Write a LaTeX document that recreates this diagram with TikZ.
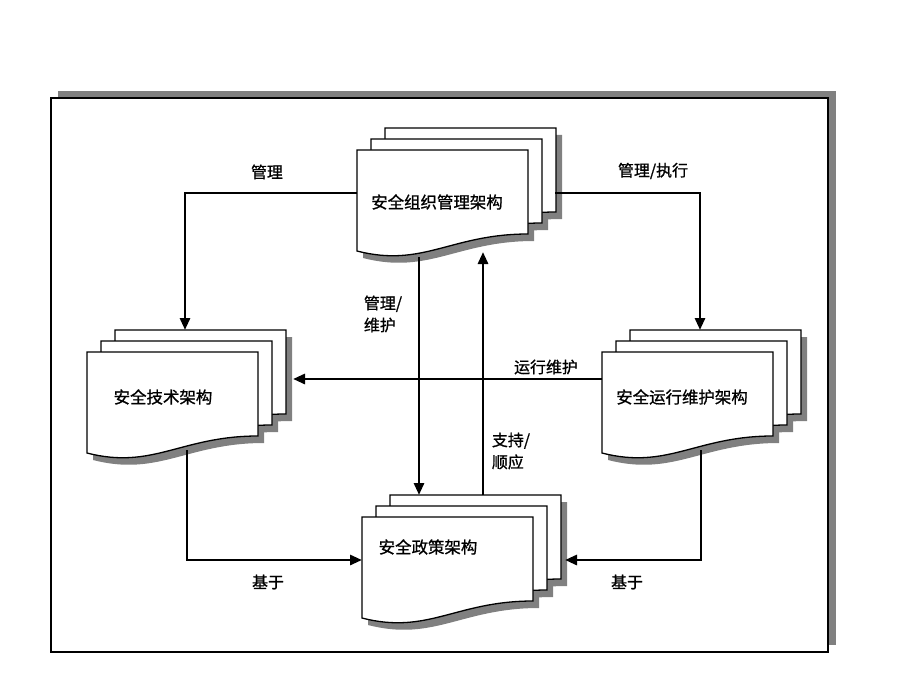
\documentclass[tikz,border=0pt]{standalone}
\usepackage{fontspec}
\newfontfamily\cjk[FakeBold=1]{Noto Sans CJK SC}
\usetikzlibrary{arrows.meta}

% outline of one page (front page, top-left at the origin)
\newcommand{\docshape}{(0,0) -- (171,0) -- (171,84) .. controls (94,84) and (66,118) .. (0,101) -- cycle}

% stack of three pages, #1/#2 = top-left of the front page
\newcommand{\docstack}[2]{%
  \begin{scope}[shift={(#1,#2)}]
    \foreach \dx/\dy in {28/-22,14/-11,0/0}
      \fill[docshadow, shift={(\dx+6,\dy+7)}] \docshape;
    \foreach \dx/\dy in {28/-22,14/-11,0/0}
      \draw[docpage, shift={(\dx,\dy)}] \docshape;
  \end{scope}}

\begin{document}
\begin{tikzpicture}[x=1bp, y=-1bp,
    docpage/.style={draw=black, line width=1.3bp, fill=white},
    docshadow/.style={fill=black!50},
    conn/.style={line width=2.8bp, -{Triangle[length=12bp,width=10bp]}},
    doctext/.style={font=\cjk\fontsize{16.5}{20}\selectfont},
    lbl/.style={font=\cjk\fontsize{16}{22}\selectfont, align=left, inner sep=0pt}]

    \useasboundingbox (0,0) rectangle (920,690);

    % Frame with its shadow
    \fill[black!50] (58,91) rectangle (836,645);
    \draw[line width=2bp, fill=white] (51,98) rectangle (828,652);

    % Document stacks
    \docstack{357}{150}
    \docstack{87}{352}
    \docstack{602}{352}
    \docstack{362}{517}

    \node[doctext] (org) at (437,202) {安全组织管理架构};
    \node[doctext] (tech) at (163,397) {安全技术架构};
    \node[doctext] (ops) at (682,397) {安全运行维护架构};
    \node[doctext] (policy) at (428,547) {安全政策架构};

    % Connection points on the stacks
    \coordinate (org-w) at (357,193);
    \coordinate (org-e) at (555,193);
    \coordinate (org-s1) at (419,257);
    \coordinate (org-s2) at (483,252);
    \coordinate (tech-n) at (185,330);
    \coordinate (tech-e) at (293,379);
    \coordinate (tech-s) at (187,450);
    \coordinate (ops-n) at (700,330);
    \coordinate (ops-w) at (602,379);
    \coordinate (ops-s) at (701,450);
    \coordinate (policy-n1) at (419,495);
    \coordinate (policy-n2) at (483,495);
    \coordinate (policy-w) at (362,560);
    \coordinate (policy-e) at (565,560);

    % Connectors
    \draw[conn] (org-w) -| (tech-n);
    \draw[conn] (org-e) -| (ops-n);
    \draw[conn] (org-s1) -- (policy-n1);
    \draw[conn] (policy-n2) -- (org-s2);
    \draw[conn] (ops-w) -- (tech-e);
    \draw[conn] (tech-s) |- (policy-w);
    \draw[conn] (ops-s) |- (policy-e);

    % Labels
    \node[lbl] (l-manage) at (267,172) {管理};
    \node[lbl] (l-exec) at (653,171) {管理/执行};
    \node[lbl] (l-maint) at (383,314) {管理/\\维护};
    \node[lbl] (l-support) at (511,451) {支持/\\顺应};
    \node[lbl] (l-run) at (546,367) {运行维护};
    \node[lbl] (l-base1) at (268,582) {基于};
    \node[lbl] (l-base2) at (627,582) {基于};

\end{tikzpicture}
\end{document}
